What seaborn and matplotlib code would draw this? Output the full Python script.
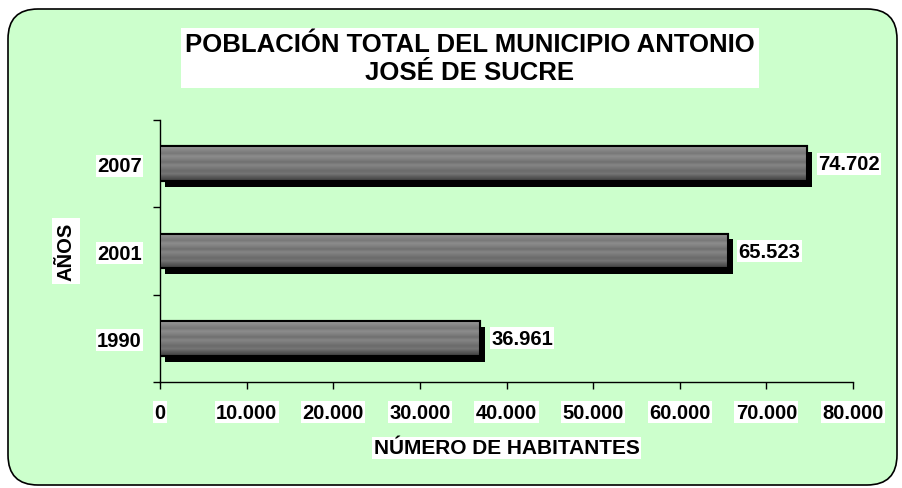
import numpy as np
import pandas as pd
import matplotlib
matplotlib.use("Agg")
import matplotlib.pyplot as plt
import matplotlib.patheffects as pe
from matplotlib.patches import FancyBboxPatch, Rectangle
from matplotlib.ticker import FuncFormatter, FixedLocator
import seaborn as sns

# datos del grafico
anios = ["2007", "2001", "1990"]
habitantes = [74702, 65523, 36961]
titulo = "POBLACIÓN TOTAL DEL MUNICIPIO ANTONIO\nJOSÉ DE SUCRE"
xlabel = "NÚMERO DE HABITANTES"
ylabel = "AÑOS"

df = pd.DataFrame({"anio": anios, "hab": habitantes})

sns.set_style("white")
plt.rcParams["font.family"] = ["Liberation Sans", "DejaVu Sans"]
plt.rcParams["font.weight"] = "bold"
plt.rcParams["text.color"] = "black"
plt.rcParams["xtick.color"] = "black"
plt.rcParams["ytick.color"] = "black"
plt.rcParams["axes.labelcolor"] = "black"

fig = plt.figure(figsize=(9.02, 4.89), dpi=100)
fig.patch.set_facecolor("white")

# fondo verde con esquinas redondeadas (en pixeles)
fondo = FancyBboxPatch((8, 3), 889, 476, boxstyle="round,pad=0,rounding_size=30",
                       transform=None, facecolor="#CCFFCC", edgecolor="black",
                       linewidth=1.2, zorder=-10)
fig.patches.append(fondo)

ax = fig.add_axes([160 / 902, 1 - 383 / 489, 693 / 902, 262 / 489])
ax.set_facecolor("none")

sns.barplot(data=df, x="hab", y="anio", order=anios, orient="h", color="#707070",
            width=0.4, edgecolor="black", linewidth=1.5, ax=ax, zorder=3)

# textura gris de las barras
tex = np.array([0.58, 0.52, 0.47, 0.55, 0.5, 0.44, 0.52, 0.47, 0.42, 0.46, 0.36, 0.28])[:, None]
tex = np.repeat(tex, 4, axis=1)
for p in list(ax.patches):
    p.set_path_effects([pe.SimplePatchShadow(offset=(3.8, -4.2), shadow_rgbFace="black", alpha=1),
                        pe.Normal()])
    x0, y0 = p.get_x(), p.get_y()
    w, h = p.get_width(), p.get_height()
    im = ax.imshow(tex, cmap="gray", vmin=0, vmax=1, aspect="auto",
                   extent=(x0, x0 + w, y0 + h, y0), zorder=4, interpolation="bilinear")
    im.set_clip_path(p)
    ax.add_patch(Rectangle((x0, y0), w, h, facecolor="none", edgecolor="black",
                           linewidth=1.5, zorder=5))

ax.set_xlim(0, 80000)
ax.set_ylim(2.5, -0.5)
ax.xaxis.set_major_locator(FixedLocator(np.arange(0, 80001, 10000)))
ax.xaxis.set_major_formatter(FuncFormatter(lambda v, _: f"{int(v):,}".replace(",", ".")))

sns.despine(ax=ax)
for s in ["left", "bottom"]:
    ax.spines[s].set_color("black")
    ax.spines[s].set_linewidth(1)

ax.yaxis.set_minor_locator(FixedLocator([-0.5, 0.5, 1.5, 2.5]))
ax.tick_params(axis="y", which="major", length=0, pad=13, labelsize=14.5)
ax.tick_params(axis="y", which="minor", length=5, width=1, color="black", direction="out", left=True)
ax.tick_params(axis="x", which="major", length=5, width=1, color="black", direction="out",
               bottom=True, pad=10, labelsize=14.5)

for lab in ax.get_xticklabels() + ax.get_yticklabels():
    lab.set_fontweight("bold")
    lab.set_bbox(dict(facecolor="white", edgecolor="none", pad=1))

ax.set_xlabel(xlabel, fontsize=15, fontweight="bold", labelpad=12,
              bbox=dict(facecolor="white", edgecolor="none", pad=1))
ax.set_ylabel(ylabel, fontsize=14.5, fontweight="bold", va="center", ha="center",
              bbox=dict(facecolor="white", edgecolor="none", pad=3))
ax.yaxis.set_label_coords((66 - 160) / 693, 0.5)

for p, v in zip(ax.patches[:len(habitantes)], habitantes):
    ax.annotate(f"{v:,}".replace(",", "."), (p.get_x() + p.get_width(), p.get_y() + p.get_height() / 2),
                xytext=(8, 0), textcoords="offset points", ha="left", va="center",
                fontsize=14.5, fontweight="bold", zorder=6,
                bbox=dict(facecolor="white", edgecolor="none", pad=1))

fig.text(470 / 902, 1 - 59 / 489, titulo, ha="center", va="center", fontsize=18.5,
         fontweight="bold", linespacing=1.25,
         bbox=dict(facecolor="white", edgecolor="none", pad=3))

fig.savefig("out.png", dpi=100)
